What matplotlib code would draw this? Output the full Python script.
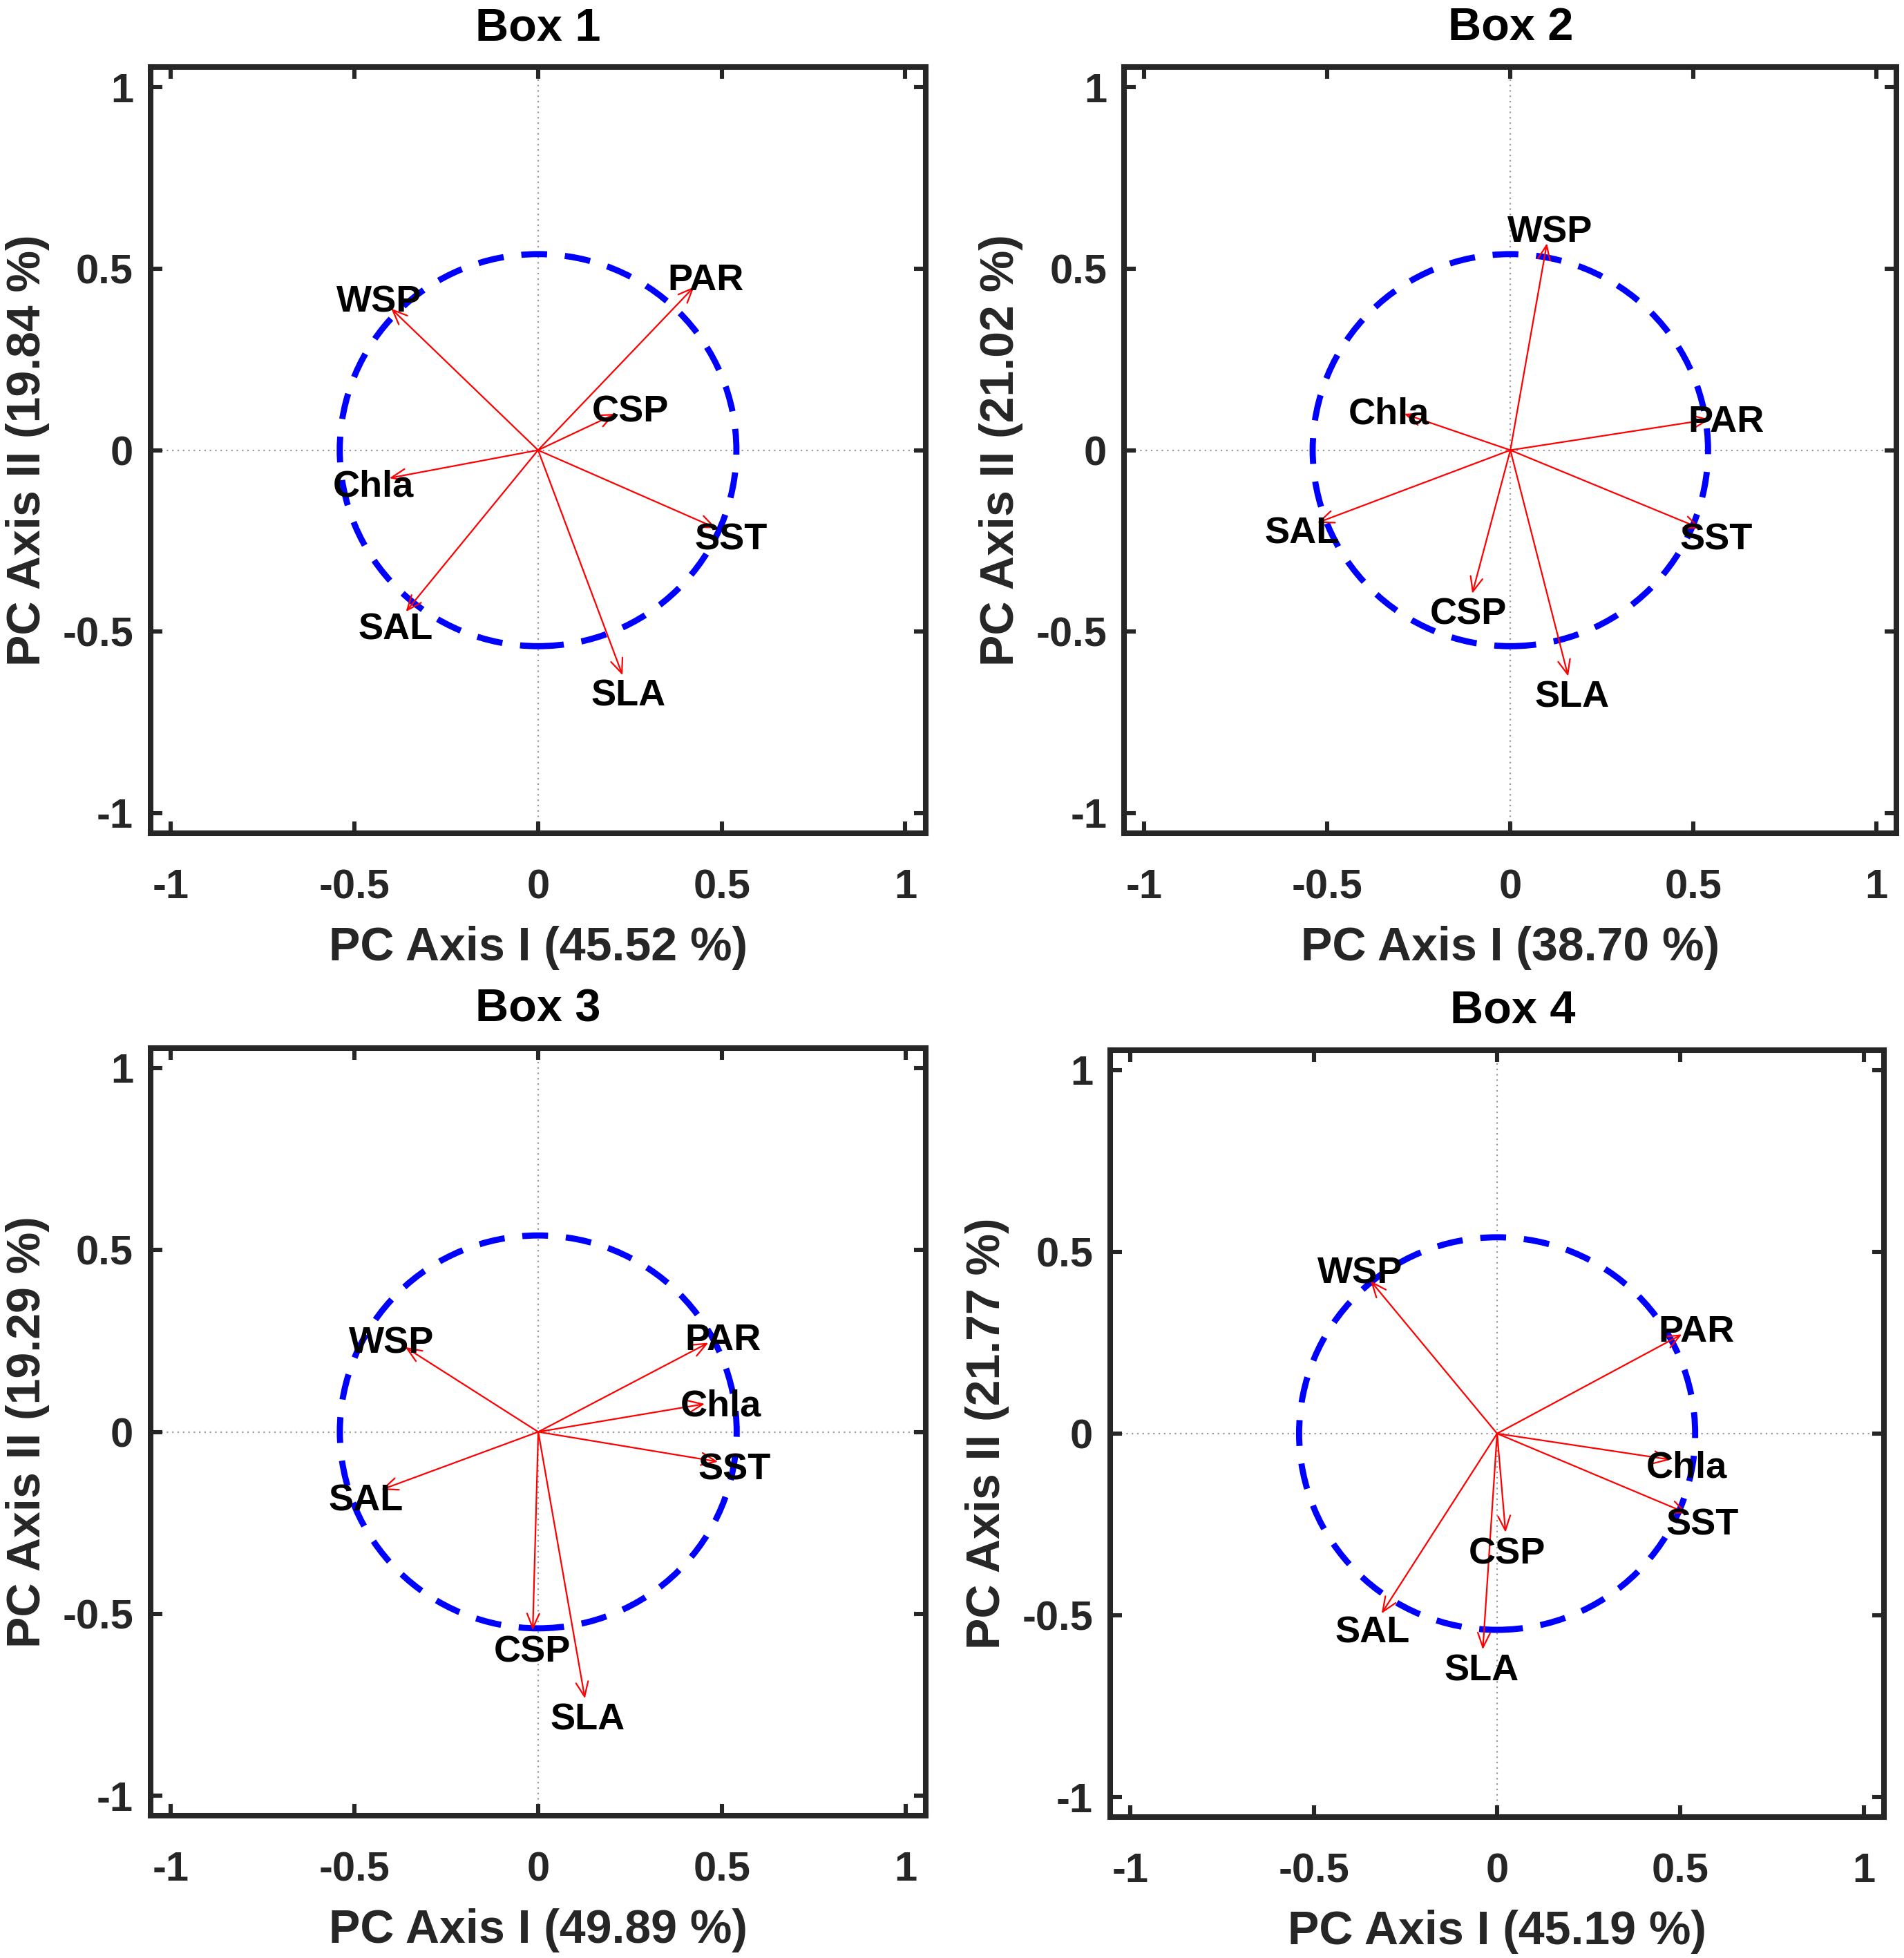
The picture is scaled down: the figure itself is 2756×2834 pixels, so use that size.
import numpy as np
import matplotlib.pyplot as plt
from matplotlib.patches import Circle

plt.rcParams['font.family'] = ['Liberation Sans', 'DejaVu Sans']
plt.rcParams['font.weight'] = 'bold'
plt.rcParams['axes.unicode_minus'] = False

# data
variables = ['WSP', 'PAR', 'CSP', 'Chla', 'SST', 'SAL', 'SLA']
titles = ['Box 1', 'Box 2', 'Box 3', 'Box 4']
pc1_var = ['45.52', '38.70', '49.89', '45.19']
pc2_var = ['19.84', '21.02', '19.29', '21.77']

# loadings: PC I (x) and PC II (y), same order as variables
box1_x = [-0.400, 0.425, 0.210, -0.405, 0.485, -0.360, 0.230]
box1_y = [0.390, 0.450, 0.100, -0.077, -0.215, -0.445, -0.620]
box2_x = [0.100, 0.545, -0.104, -0.290, 0.520, -0.527, 0.158]
box2_y = [0.570, 0.085, -0.395, 0.100, -0.216, -0.200, -0.623]
box3_x = [-0.362, 0.463, -0.015, 0.453, 0.489, -0.427, 0.127]
box3_y = [0.233, 0.245, -0.545, 0.077, -0.082, -0.159, -0.733]
box4_x = [-0.345, 0.504, 0.023, 0.473, 0.519, -0.315, -0.039]
box4_y = [0.420, 0.273, -0.272, -0.072, -0.220, -0.495, -0.594]

loadings = [(box1_x, box1_y), (box2_x, box2_y), (box3_x, box3_y), (box4_x, box4_y)]

radius = 0.54  # equilibrium circle
ticks = [-1, -0.5, 0, 0.5, 1]
tick_labels = ['-1', '-0.5', '0', '0.5', '1']

axcol = '#262626'

fig = plt.figure(figsize=(13.78, 14.17), dpi=200)
positions = [
    [0.0791, 0.5745, 0.4070, 0.3912],
    [0.5904, 0.5745, 0.4057, 0.3912],
    [0.0791, 0.0727, 0.4072, 0.3920],
    [0.5831, 0.0720, 0.4064, 0.3917],
]
title_x = [0.5, 0.5, 0.5, 0.52]

for k in range(4):
    ax = fig.add_axes(positions[k])
    xs, ys = loadings[k]

    ax.axhline(0, color='#999999', lw=0.8, ls=(0, (1, 2.5)), zorder=1)
    ax.axvline(0, color='#999999', lw=0.8, ls=(0, (1, 2.5)), zorder=1)

    circ = Circle((0, 0), radius, fill=False, edgecolor='blue', lw=3.2,
                  linestyle=(0, (4.2, 2.9)), zorder=2)
    ax.add_patch(circ)

    for name, x, y in zip(variables, xs, ys):
        ax.annotate('', xy=(x, y), xytext=(0, 0),
                    arrowprops=dict(arrowstyle='->,head_length=0.38,head_width=0.16',
                                    mutation_scale=20, color='red', lw=0.8,
                                    shrinkA=0, shrinkB=0), zorder=3)
        r = np.hypot(x, y)
        lx = x + 0.045 * x / r
        ly = y + 0.045 * y / r - 0.015
        ax.text(lx, ly, name, ha='center', va='center', fontsize=19.5,
                fontweight='bold', color='black', zorder=4)

    ax.set_xlim(-1.055, 1.055)
    ax.set_ylim(-1.055, 1.055)
    ax.set_xticks(ticks)
    ax.set_yticks(ticks)
    ax.set_xticklabels(tick_labels)
    ax.set_yticklabels(tick_labels)
    ax.tick_params(axis='both', direction='in', top=True, right=True,
                   length=6, width=2.2, color=axcol, labelcolor=axcol,
                   labelsize=21.5)
    ax.tick_params(axis='x', pad=18.5)
    ax.tick_params(axis='y', pad=9)
    for lab in ax.get_xticklabels() + ax.get_yticklabels():
        lab.set_fontweight('bold')
    for sp in ax.spines.values():
        sp.set_linewidth(2.9)
        sp.set_color(axcol)

    ax.set_xlabel('PC Axis I (' + pc1_var[k] + ' %)', fontsize=24.5,
                  fontweight='bold', color=axcol, labelpad=10)
    ax.set_ylabel('PC Axis II (' + pc2_var[k] + ' %)', fontsize=24.5,
                  fontweight='bold', color=axcol, labelpad=6.5)
    ax.set_title(titles[k], fontsize=24, fontweight='bold', color='black',
                 pad=14, x=title_x[k])

fig.savefig('out.png', dpi=200, facecolor='white')
